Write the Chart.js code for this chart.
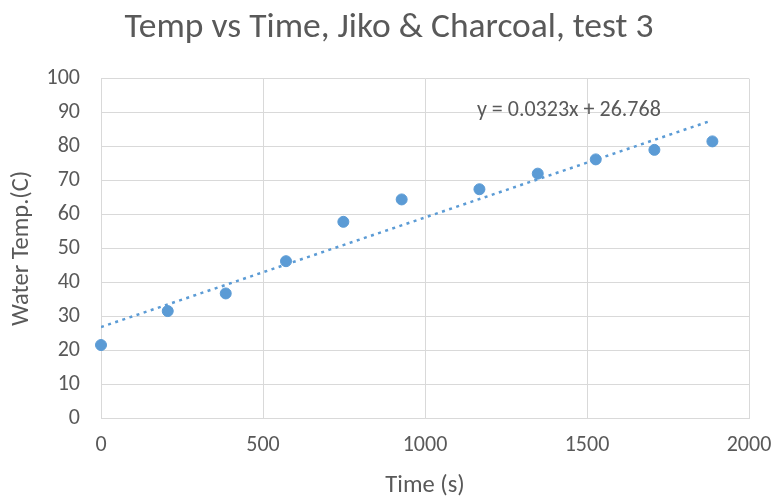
<!DOCTYPE html>
<html>
<head>
<meta charset="utf-8">
<script src="https://cdn.jsdelivr.net/npm/chart.js@4"></script>
<style>
  html, body { margin: 0; padding: 0; background: #fff; }
  #wrap { width: 778px; height: 498px; }
</style>
</head>
<body>
<div id="wrap"><canvas id="grafico"></canvas></div>
<script>
  // data
  const tiempos = [0, 206, 385, 571, 748, 928, 1168, 1348, 1527, 1708, 1887];
  const temps = [21.5, 31.5, 36.7, 46.2, 57.8, 64.4, 67.4, 72.0, 76.2, 79.0, 81.5];
  const trendX = [0, 1880];
  const trendY = [26.8, 87.5];
  const ecuacion = 'y = 0.0323x + 26.768';
  const xTicks = [0, 500, 1000, 1500, 2000];
  const yTicks = [0, 10, 20, 30, 40, 50, 60, 70, 80, 90, 100];

  const gris = '#595959';
  const azul = '#5b9bd5';
  const fuente = "Carlito, Calibri, 'Liberation Sans', sans-serif";

  const etiquetaEcuacion = {
    id: 'etiquetaEcuacion',
    afterDatasetsDraw(chart) {
      const c = chart.ctx;
      const x = chart.scales.x.getPixelForValue(1444);
      const y = chart.scales.y.getPixelForValue(90.6);
      c.save();
      c.font = '22px ' + fuente;
      c.fillStyle = gris;
      c.textAlign = 'center';
      c.textBaseline = 'middle';
      c.fillText(ecuacion, x, y);
      c.restore();
    }
  };

  new Chart(document.getElementById('grafico'), {
    type: 'scatter',
    data: {
      datasets: [{
        data: tiempos.map((t, i) => ({x: t, y: temps[i]})),
        backgroundColor: azul,
        borderColor: azul,
        pointRadius: 5.5,
        pointHoverRadius: 5.5,
        clip: false
      }, {
        type: 'line',
        data: trendX.map((t, i) => ({x: t, y: trendY[i]})),
        borderColor: azul,
        borderWidth: 2.5,
        borderDash: [3, 4.5],
        pointRadius: 0,
        fill: false
      }]
    },
    options: {
      responsive: true,
      maintainAspectRatio: false,
      animation: false,
      layout: {padding: 0},
      plugins: {
        legend: {display: false},
        tooltip: {enabled: false},
        title: {
          display: true,
          text: 'Temp vs Time, Jiko & Charcoal, test 3',
          color: gris,
          font: {family: fuente, size: 35.5, weight: 'normal'},
          padding: {top: 7, bottom: 29}
        }
      },
      scales: {
        x: {
          type: 'linear',
          min: 0, max: 2000,
          afterBuildTicks: s => { s.ticks = xTicks.map(v => ({value: v})); },
          afterFit: s => { s.height = 80; s.paddingLeft = 0; s.paddingRight = 29; },
          grid: {color: '#d9d9d9', drawTicks: false},
          border: {color: '#d9d9d9'},
          ticks: {color: gris, font: {family: fuente, size: 22}, padding: 14, maxRotation: 0,
                  callback: v => String(v)},
          title: {display: true, text: 'Time (s)', color: gris,
                  font: {family: fuente, size: 24.5, lineHeight: 1}, padding: {top: 0, bottom: 0}}
        },
        y: {
          min: 0, max: 100,
          afterBuildTicks: s => { s.ticks = yTicks.map(v => ({value: v})); },
          afterFit: s => { s.width = 101; },
          grid: {color: '#d9d9d9', drawTicks: false},
          border: {color: '#d9d9d9'},
          ticks: {color: gris, font: {family: fuente, size: 22}, padding: 21,
                  callback: v => String(v)},
          title: {display: true, text: 'Water Temp.(C)', color: gris,
                  font: {family: fuente, size: 24.5, lineHeight: 1}, padding: {top: 10, bottom: 0}}
        }
      }
    },
    plugins: [etiquetaEcuacion]
  });
</script>
</body>
</html>
